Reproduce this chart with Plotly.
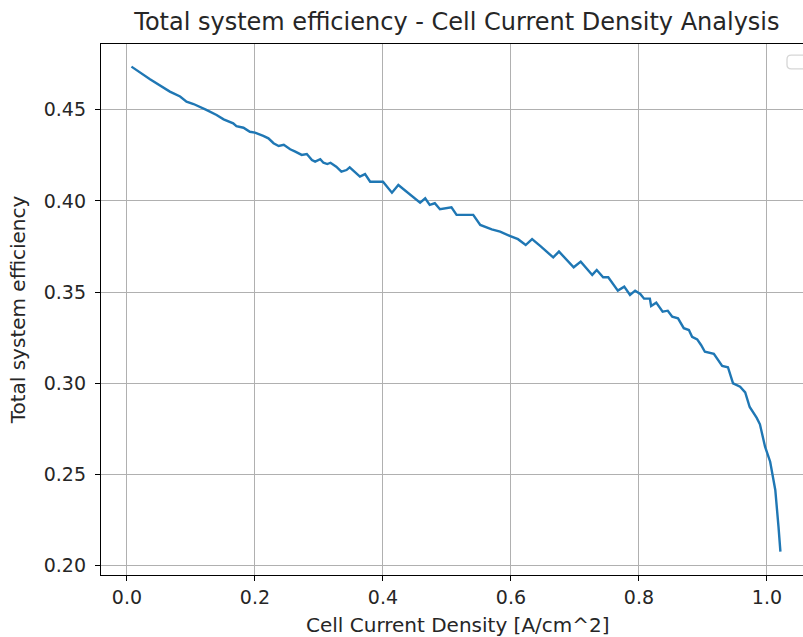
import plotly.graph_objects as go

# Cell current density [A/cm^2] and total system efficiency [-]
current_density = [
    0.007, 0.036, 0.067, 0.083, 0.093, 0.104, 0.124, 0.140, 0.151, 0.156,
    0.166, 0.171, 0.182, 0.192, 0.200, 0.213, 0.221, 0.229, 0.237, 0.245,
    0.255, 0.263, 0.273, 0.281, 0.289, 0.294, 0.302, 0.307, 0.313, 0.318,
    0.327, 0.335, 0.343, 0.348, 0.364, 0.372, 0.380, 0.400, 0.414, 0.424,
    0.458, 0.466, 0.473, 0.481, 0.489, 0.507, 0.515, 0.541, 0.552, 0.570,
    0.583, 0.598, 0.611, 0.623, 0.633, 0.647, 0.666, 0.675, 0.698, 0.709,
    0.727, 0.734, 0.744, 0.752, 0.767, 0.777, 0.786, 0.794, 0.802, 0.808,
    0.817, 0.819, 0.827, 0.837, 0.845, 0.852, 0.861, 0.870, 0.878, 0.883,
    0.891, 0.897, 0.903, 0.917, 0.923, 0.930, 0.939, 0.947, 0.958, 0.966,
    0.973, 0.984, 0.989, 0.997, 1.005, 1.013, 1.018, 1.021,
]
efficiency = [
    0.4736, 0.4667, 0.4599, 0.4572, 0.4544, 0.4531, 0.4499, 0.4471, 0.4447, 0.4440,
    0.4425, 0.4410, 0.4401, 0.4379, 0.4374, 0.4356, 0.4343, 0.4316, 0.4301, 0.4307,
    0.4283, 0.4270, 0.4252, 0.4257, 0.4224, 0.4215, 0.4228, 0.4209, 0.4202, 0.4209,
    0.4187, 0.4160, 0.4169, 0.4184, 0.4133, 0.4147, 0.4105, 0.4105, 0.4045, 0.4087,
    0.3990, 0.4014, 0.3978, 0.3987, 0.3954, 0.3965, 0.3923, 0.3923, 0.3868, 0.3844,
    0.3831, 0.3808, 0.3790, 0.3758, 0.3790, 0.3749, 0.3690, 0.3722, 0.3636, 0.3667,
    0.3594, 0.3621, 0.3581, 0.3581, 0.3508, 0.3530, 0.3484, 0.3508, 0.3490, 0.3464,
    0.3464, 0.3424, 0.3442, 0.3393, 0.3398, 0.3365, 0.3356, 0.3302, 0.3292, 0.3255,
    0.3241, 0.3210, 0.3173, 0.3161, 0.3132, 0.3095, 0.3088, 0.3000, 0.2981, 0.2950,
    0.2870, 0.2810, 0.2775, 0.2652, 0.2570, 0.2415, 0.2214, 0.2077,
]

x_ticks = [0.0, 0.2, 0.4, 0.6, 0.8, 1.0]
x_tick_text = ["0.0", "0.2", "0.4", "0.6", "0.8", "1.0"]
y_ticks = [0.20, 0.25, 0.30, 0.35, 0.40, 0.45]
y_tick_text = ["0.20", "0.25", "0.30", "0.35", "0.40", "0.45"]

FONT = "DejaVu Sans"
TEXT = "#262626"

fig = go.Figure()
fig.add_trace(go.Scatter(
    x=current_density, y=efficiency, mode="lines",
    line=dict(color="#1f77b4", width=2.4),
    showlegend=False,
))

axis_common = dict(
    showgrid=True, gridcolor="#b0b0b0", gridwidth=1.2,
    showline=True, linecolor="black", linewidth=1.3,
    ticks="outside", ticklen=5, tickwidth=1.3, tickcolor="black",
    tickfont=dict(family=FONT, size=19, color=TEXT),
    zeroline=False,
)

fig.update_layout(
    width=803, height=637,
    margin=dict(l=101, r=0, t=44, b=62),
    paper_bgcolor="white", plot_bgcolor="white",
    font=dict(family=FONT, color=TEXT),
    title=dict(
        text="Total system efficiency - Cell Current Density Analysis",
        font=dict(family=FONT, size=24, color=TEXT),
        x=0.507, xref="paper", xanchor="center",
        y=1 - 22 / 637, yref="container", yanchor="middle",
    ),
    xaxis=dict(
        axis_common, range=[-0.0406, 1.0563], mirror=True,
        tickvals=x_ticks, ticktext=x_tick_text,
    ),
    yaxis=dict(
        axis_common, range=[0.1949, 0.486],
        tickvals=y_ticks, ticktext=y_tick_text, ticklabelstandoff=5,
        title=dict(text="Total system efficiency",
                   font=dict(family=FONT, size=20, color=TEXT), standoff=12),
    ),
)

# x-axis label centred under the full axes span
fig.add_annotation(
    text="Cell Current Density [A/cm^2]",
    xref="paper", yref="paper", x=0.509, y=0, yshift=-50,
    xanchor="center", yanchor="middle", showarrow=False,
    font=dict(family=FONT, size=20, color=TEXT),
)

# Empty legend frame in the upper right corner
x0, x1, y0, y1, r = 0.9772, 1.03, 0.953, 0.979, 0.006
fig.add_shape(
    type="path", xref="paper", yref="paper",
    path=(f"M {x0 + r} {y1} L {x1} {y1} L {x1} {y0} L {x0 + r} {y0} "
          f"Q {x0} {y0} {x0} {y0 + r * 1.3} L {x0} {y1 - r * 1.3} "
          f"Q {x0} {y1} {x0 + r} {y1} Z"),
    line=dict(color="#d6d6d6", width=1.3), fillcolor="white",
)

fig.write_html("out.html")
